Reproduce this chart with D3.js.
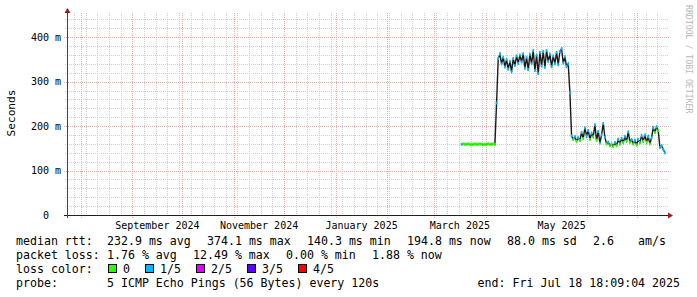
<!DOCTYPE html>
<html>
<head>
<meta charset="utf-8">
<script src="https://cdn.jsdelivr.net/npm/d3@7"></script>
<style>
html, body { margin: 0; padding: 0; background: #fff; }
svg { display: block; font-family: "DejaVu Sans Mono", monospace; }
</style>
</head>
<body>
<svg id="chart" width="697" height="297"></svg>
<script>
/**
 * Data (last 360 days)
 */
var graphEnd = Date.UTC(2025, 6, 18, 18, 9, 4);
var graphDays = 360;
var sampleStart = Date.UTC(2025, 2, 17, 12, 0, 0);   // first median sample
var sampleStepDays = 1;

// median rtt in ms, one value per sample step
var medianMs = [
    159, 160, 159, 159, 160, 159, 158, 159, 160, 159, 159, 160, 159, 158, 159, 159, 160, 159, 159, 160, 159,
    252,
    352, 362, 340, 355, 333, 350, 328, 346, 322, 352, 336, 358, 341, 360, 344, 363, 330, 355, 327, 362,
    340, 370, 325, 360, 318, 366, 335, 368, 332, 370, 345, 362, 334, 358, 340, 366, 338, 368, 374, 342,
    356, 334, 340,
    275,
    178, 170, 176, 166, 174, 168, 186, 172, 196, 178, 190, 170, 184, 176, 203, 168, 188, 162, 180, 206,
    175, 160, 164, 156, 160, 154, 163, 156, 170, 160, 172, 163, 176, 166, 187, 164, 170, 160, 168, 158,
    170, 163, 178, 166, 180, 164, 176, 160, 174, 196, 186, 198, 190, 152, 156, 148, 140
];
// loss class per sample (index into lossLabels)
var lossClass = [
    1, 0, 0, 0, 0, 0, 0, 0, 0, 0, 0, 0, 0, 0, 0, 0, 0, 0, 0, 0, 0,
    1,
    1, 1, 1, 1, 1, 1, 1, 1, 1, 1, 1, 1, 1, 1, 1, 1, 1, 1, 1, 1,
    1, 1, 1, 1, 1, 1, 1, 1, 1, 1, 1, 1, 1, 1, 1, 1, 1, 1, 1, 1,
    1, 1, 1,
    1,
    1, 0, 1, 0, 1, 0, 1, 0, 1, 1, 1, 0, 1, 0, 1, 0, 1, 1, 1, 1,
    1, 0, 1, 0, 0, 0, 1, 0, 1, 0, 1, 0, 1, 0, 1, 0, 1, 0, 1, 0,
    1, 0, 1, 0, 1, 0, 1, 0, 1, 1, 0, 1, 0, 1, 1, 1, 1
];

var lossLabels = ["0", "1/5", "2/5", "3/5", "4/5"];
var lossColors = ["#26ff00", "#00b8ff", "#dd00ff", "#5e00ff", "#ff0000"];

var yMajorTicks = [0, 100, 200, 300, 400];
var yLabels = ["0\u00a0\u00a0", "100 m", "200 m", "300 m", "400 m"];

var legendRows = [
    [["median rtt:", 16], ["232.9 ms avg", 107], ["374.1 ms max", 207], ["140.3 ms min", 307],
     ["194.8 ms now", 407], ["88.0 ms sd", 507], ["2.6", 593], ["am/s", 638]],
    [["packet loss:", 16], ["1.76 % avg", 107], ["12.49 % max", 193], ["0.00 % min", 286], ["1.88 % now", 372]],
    [["loss color:", 16]],
    [["probe:", 16], ["5 ICMP Echo Pings (56 Bytes) every 120s", 107]]
];
var lossLegendX = [108, 145, 196, 247, 298];
var endText = "end: Fri Jul 18 18:09:04 2025";

/**
 * Draw the graph
 */
window.onload = function(){
    drawGraph();
};

function drawGraph(){
    let svg = d3.select("#chart");
    svg.append("rect").attr("width", 697).attr("height", 297).attr("fill", "#fff");

    let left = 67, right = 667, top = 15, bottom = 215;
    let start = new Date(graphEnd - graphDays * 864e5);

    let xScale = d3.scaleUtc()
        .domain([start, new Date(graphEnd)])
        .range([left, right]);
    let yScale = d3.scaleLinear()
        .domain([0, 450])
        .range([bottom, top]);

    let grid = svg.append("g").attr("shape-rendering", "crispEdges");

    // minor grid: every 20 ms and every week (sunday)
    let yMinor = d3.range(20, 450, 20).filter(function(v){ return v % 100 !== 0; });
    grid.selectAll("line.ymin")
        .data(yMinor)
        .enter().append("line")
        .attr("x1", left - 2).attr("x2", right + 1)
        .attr("y1", function(d){ return Math.round(yScale(d)) + 0.5; })
        .attr("y2", function(d){ return Math.round(yScale(d)) + 0.5; })
        .style("stroke", "#d0d0d0").style("stroke-dasharray", "1,1");

    let weeks = d3.utcSunday.range(start, new Date(graphEnd));
    grid.selectAll("line.xmin")
        .data(weeks)
        .enter().append("line")
        .attr("x1", function(d){ return Math.round(xScale(d)) + 0.5; })
        .attr("x2", function(d){ return Math.round(xScale(d)) + 0.5; })
        .attr("y1", top - 2).attr("y2", bottom + 2)
        .style("stroke", "#d0d0d0").style("stroke-dasharray", "1,1");

    // major grid: every 100 ms and every month
    grid.selectAll("line.ymaj")
        .data(yMajorTicks.slice(1))
        .enter().append("line")
        .attr("x1", left - 3).attr("x2", right + 2)
        .attr("y1", function(d){ return Math.round(yScale(d)) + 0.5; })
        .attr("y2", function(d){ return Math.round(yScale(d)) + 0.5; })
        .style("stroke", "#eaaaaa").style("stroke-dasharray", "1,1");

    let months = d3.utcMonth.range(start, new Date(graphEnd));
    grid.selectAll("line.xmaj")
        .data(months)
        .enter().append("line")
        .attr("x1", function(d){ return Math.round(xScale(d)) + 0.5; })
        .attr("x2", function(d){ return Math.round(xScale(d)) + 0.5; })
        .attr("y1", top - 2).attr("y2", bottom + 3)
        .style("stroke", "#eaaaaa").style("stroke-dasharray", "1,1");

    // median data
    let data = medianMs.map(function(v, i){
        return {t: new Date(sampleStart + i * sampleStepDays * 864e5), v: v, c: lossClass[i]};
    });
    let stepPx = xScale(new Date(sampleStart + sampleStepDays * 864e5)) - xScale(new Date(sampleStart));

    let line = d3.line()
        .x(function(d){ return xScale(d.t); })
        .y(function(d){ return yScale(d.v); });
    svg.append("path")
        .datum(data)
        .attr("d", line)
        .style("fill", "none")
        .style("stroke", "#1a1a1a")
        .style("stroke-width", 1.4);

    svg.selectAll("rect.median")
        .data(data)
        .enter().append("rect")
        .attr("x", function(d){ return xScale(d.t) - stepPx / 2; })
        .attr("y", function(d){ return yScale(d.v) - 1.5; })
        .attr("width", stepPx)
        .attr("height", 3)
        .style("fill", function(d){ return lossColors[d.c]; });

    // axes
    let axes = svg.append("g").attr("shape-rendering", "crispEdges");
    axes.append("line")
        .attr("x1", left - 3).attr("x2", right + 2)
        .attr("y1", bottom + 0.5).attr("y2", bottom + 0.5)
        .style("stroke", "#202020");
    axes.append("line")
        .attr("x1", left + 0.5).attr("x2", left + 0.5)
        .attr("y1", bottom + 3).attr("y2", top - 3)
        .style("stroke", "#404040");
    svg.append("path")
        .attr("d", `M${left - 2.5},${top - 2} L${left + 3.5},${top - 2} L${left + 0.5},${top - 7} Z`)
        .style("fill", "#a01818");
    svg.append("path")
        .attr("d", `M${right + 1},${bottom - 2.5} L${right + 1},${bottom + 3.5} L${right + 6},${bottom + 0.5} Z`)
        .style("fill", "#a01818");

    // y tick labels
    svg.selectAll("text.ylab")
        .data(yMajorTicks)
        .enter().append("text")
        .attr("x", 61)
        .attr("y", function(d){ return yScale(d) + 3.5; })
        .attr("text-anchor", "end")
        .style("font-size", "10px")
        .style("fill", "#000")
        .text(function(d, i){ return yLabels[i]; });

    // x labels: every second month, centred on the month
    let labelMonths = d3.utcMonth.every(2).range(start, new Date(graphEnd)).filter(function(m){
        return m >= start && d3.utcMonth.offset(m, 1) <= new Date(graphEnd);
    });
    let fmt = d3.utcFormat("%B %Y");
    svg.selectAll("text.xlab")
        .data(labelMonths)
        .enter().append("text")
        .attr("x", function(d){ return (xScale(d) + xScale(d3.utcMonth.offset(d, 1))) / 2; })
        .attr("y", 229)
        .attr("text-anchor", "middle")
        .style("font-size", "10px")
        .style("fill", "#000")
        .text(function(d){ return fmt(d); });

    // vertical title and watermark
    svg.append("text")
        .attr("transform", "translate(14.5,113) rotate(-90)")
        .attr("text-anchor", "middle")
        .style("font-size", "11.2px")
        .style("fill", "#000")
        .text("Seconds");
    svg.append("text")
        .attr("transform", "translate(685.5,5) rotate(90)")
        .attr("text-anchor", "start")
        .style("font-size", "8.2px")
        .style("fill", "#b8b8b8")
        .text("RRDTOOL / TOBI OETIKER");

    // legend
    let rowY = [241, 255, 269, 283];
    legendRows.forEach(function(row, r){
        svg.selectAll(null)
            .data(row)
            .enter().append("text")
            .attr("x", function(d){ return d[1]; })
            .attr("y", rowY[r] + 4)
            .style("font-size", "11.6px")
            .style("fill", "#000")
            .style("white-space", "pre")
            .text(function(d){ return d[0]; });
    });
    svg.selectAll("rect.lossbox")
        .data(lossLabels)
        .enter().append("rect")
        .attr("x", function(d, i){ return lossLegendX[i] + 0.5; })
        .attr("y", rowY[2] - 4.5)
        .attr("width", 8).attr("height", 8)
        .attr("shape-rendering", "crispEdges")
        .style("fill", function(d, i){ return lossColors[i]; })
        .style("stroke", "#000");
    svg.selectAll("text.losslab")
        .data(lossLabels)
        .enter().append("text")
        .attr("x", function(d, i){ return lossLegendX[i] + 15; })
        .attr("y", rowY[2] + 4)
        .style("font-size", "11.6px")
        .style("fill", "#000")
        .text(function(d){ return d; });
    svg.append("text")
        .attr("x", 680)
        .attr("y", rowY[3] + 4)
        .attr("text-anchor", "end")
        .style("font-size", "11.6px")
        .style("fill", "#000")
        .text(endText);
}
</script>
</body>
</html>
